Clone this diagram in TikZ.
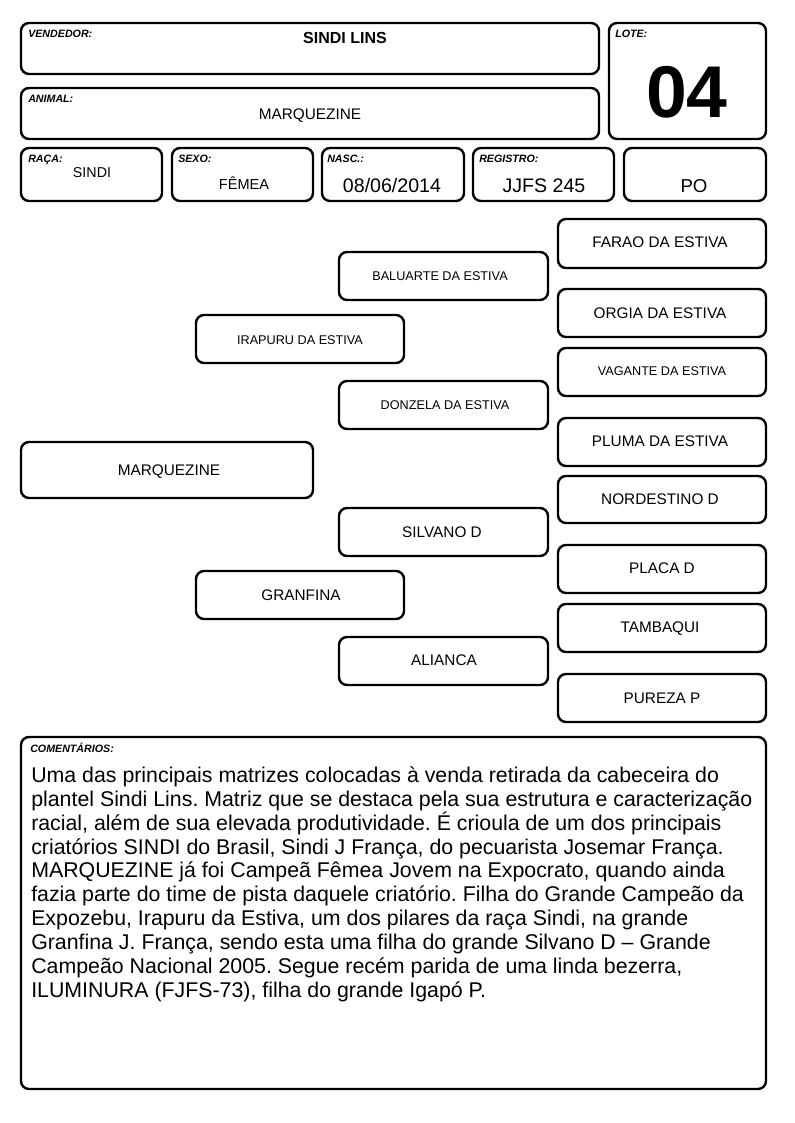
\documentclass[tikz,border=0pt]{standalone}
\usepackage{fontspec}
\setmainfont{Liberation Sans}
\usetikzlibrary{fit}
\frenchspacing
\tikzset{
  box/.style={draw=black, line width=1.8pt, rounded corners=6pt, inner sep=0pt},
  lbl/.style={anchor=base west, inner sep=0pt, font=\fontsize{8}{9}\selectfont\bfseries\itshape},
  val/.style={anchor=base, inner sep=0pt},
  big/.style={val, font=\fontsize{11.5}{13}\selectfont},
  small/.style={val, font=\fontsize{9.5}{11}\selectfont},
  cline/.style={anchor=base west, inner sep=0pt, font=\fontsize{16}{18}\selectfont}
}
\begin{document}
\begin{tikzpicture}[x=0.75pt,y=-0.75pt]
\useasboundingbox (0,0) rectangle (794,1123);
% header boxes
\node[box, fit={(21,23) (599,74)}] (vend) {};
\node[box, fit={(609,23) (766,139)}] (lote) {};
\node[box, fit={(21,88) (599,139)}] (anim) {};
\node[box, fit={(21,148) (162,201)}] (raca) {};
\node[box, fit={(172,148) (313,201)}] (sexo) {};
\node[box, fit={(322,148) (464,201)}] (nasc) {};
\node[box, fit={(473,148) (614,201)}] (reg) {};
\node[box, fit={(624,148) (766,201)}] (po) {};
% header texts
\node[lbl] (lvend) at (28,38) {VENDEDOR:};
\node[val, font=\fontsize{12}{14}\selectfont\bfseries] (tvend) at (345,44) {SINDI LINS};
\node[lbl] (lanim) at (28,103) {ANIMAL:};
\node[big] (tanim) at (310,120) {MARQUEZINE};
\node[lbl] (llote) at (615,38) {LOTE:};
\node[val, font=\fontsize{55}{60}\selectfont\bfseries] (tlote) at (687,118) {04};
\node[lbl] (lraca) at (28,163) {RAÇA:};
\node[val, font=\fontsize{10.7}{12}\selectfont] (traca) at (92,178) {SINDI};
\node[lbl] (lsexo) at (178,163) {SEXO:};
\node[val, font=\fontsize{10.9}{12}\selectfont] (tsexo) at (244,190) {FÊMEA};
\node[lbl] (lnasc) at (327,163) {NASC.:};
\node[val, font=\fontsize{14.7}{16}\selectfont] (tnasc) at (392,193) {08/06/2014};
\node[lbl] (lreg) at (479,163) {REGISTRO:};
\node[val, font=\fontsize{14.7}{16}\selectfont] (treg) at (544,193) {JJFS 245};
\node[val, font=\fontsize{14}{16}\selectfont] (tpo) at (694,193) {PO};
% pedigree boxes
\node[box, fit={(558,219) (766,268)}] (farao) {};
\node[box, fit={(339,252) (548,300)}] (baluarte) {};
\node[box, fit={(558,289) (766,337)}] (orgia) {};
\node[box, fit={(196,315) (404,363)}] (irapuru) {};
\node[box, fit={(558,348) (766,396)}] (vagante) {};
\node[box, fit={(339,381) (548,429)}] (donzela) {};
\node[box, fit={(558,418) (766,466)}] (pluma) {};
\node[box, fit={(21,442) (313,498)}] (marq) {};
\node[box, fit={(558,476) (766,523)}] (nord) {};
\node[box, fit={(339,508) (548,556)}] (silvano) {};
\node[box, fit={(558,545) (766,593)}] (placa) {};
\node[box, fit={(196,571) (404,619)}] (granfina) {};
\node[box, fit={(558,604) (766,652)}] (tambaqui) {};
\node[box, fit={(339,637) (548,685)}] (alianca) {};
\node[box, fit={(558,674) (766,722)}] (pureza) {};
% pedigree texts
\node[big] (tfarao) at (660,247.5) {FARAO DA ESTIVA};
\node[small] (tbaluarte) at (440,280.5) {BALUARTE DA ESTIVA};
\node[big] (torgia) at (660,318.5) {ORGIA DA ESTIVA};
\node[small] (tirapuru) at (300,344.5) {IRAPURU DA ESTIVA};
\node[small] (tvagante) at (662,375.5) {VAGANTE DA ESTIVA};
\node[small] (tdonzela) at (445,409.5) {DONZELA DA ESTIVA};
\node[big] (tpluma) at (660,446.5) {PLUMA DA ESTIVA};
\node[big] (tmarq) at (169,475.5) {MARQUEZINE};
\node[big] (tnord) at (660,504.5) {NORDESTINO D};
\node[big] (tsilvano) at (442,537.5) {SILVANO D};
\node[big] (tplaca) at (662,573.5) {PLACA D};
\node[big] (tgranfina) at (301,600.5) {GRANFINA};
\node[big] (ttambaqui) at (660,632.5) {TAMBAQUI};
\node[big] (talianca) at (444,665.5) {ALIANCA};
\node[big] (tpureza) at (662,703.5) {PUREZA P};
% comments
\node[box, fit={(21,737) (766,1089)}] (coment) {};
\node[lbl] (lcoment) at (30,752) {COMENTÁRIOS:};
\node[cline] (c1) at (31,782) {Uma das principais matrizes colocadas à venda retirada da cabeceira do};
\node[cline] (c2) at (31,806) {plantel Sindi Lins. Matriz que se destaca pela sua estrutura e caracterização};
\node[cline] (c3) at (31,830) {racial, além de sua elevada produtividade. É crioula de um dos principais};
\node[cline] (c4) at (31,854) {criatórios SINDI do Brasil, Sindi J França, do pecuarista Josemar França.};
\node[cline] (c5) at (31,877) {MARQUEZINE já foi Campeã Fêmea Jovem na Expocrato, quando ainda};
\node[cline] (c6) at (31,901) {fazia parte do time de pista daquele criatório. Filha do Grande Campeão da};
\node[cline] (c7) at (31,925) {Expozebu, Irapuru da Estiva, um dos pilares da raça Sindi, na grande};
\node[cline] (c8) at (31,949) {Granfina J. França, sendo esta uma filha do grande Silvano D -- Grande};
\node[cline] (c9) at (31,973) {Campeão Nacional 2005. Segue recém parida de uma linda bezerra,};
\node[cline] (c10) at (31,997) {ILUMINURA (FJFS-73), filha do grande Igapó P.};
\end{tikzpicture}
\end{document}
